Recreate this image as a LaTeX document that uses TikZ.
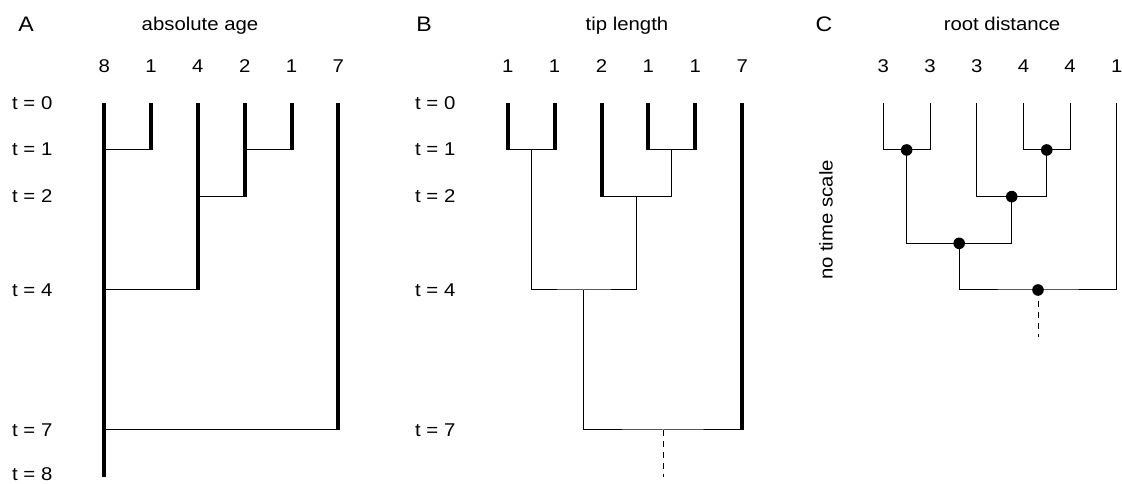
\documentclass[tikz,border=0pt]{standalone}
\usepackage{fontspec}
\setmainfont[FakeStretch=1.1]{Liberation Sans}
\usetikzlibrary{positioning}

\begin{document}
\begin{tikzpicture}[
            x = 1pt, y = -1pt, % pixel grid, y runs down
            font = \fontsize{18.5}{22}\selectfont,
            tipbranch/.style = {line width = 4pt}, % terminal branch
            innerbranch/.style = {line width = 1pt}, % internal branch
            stem/.style = {line width = 1pt, dash pattern = on 6pt off 5pt},
            tiplabel/.style = {anchor = base, inner sep = 0pt},
            timelabel/.style = {anchor = base west, inner sep = 0pt},
            paneltitle/.style = {anchor = base, inner sep = 0pt},
            panelletter/.style = {anchor = base, inner sep = 0pt,
                font = \fontsize{21}{24}\selectfont}
        ]

        \useasboundingbox (0,0) rectangle (1122,484);

        % panel titles
        \node[panelletter] (pA) at (26,32) {A};
        \node[paneltitle] (tA) at (200,31) {absolute age};
        \node[panelletter] (pB) at (424,32) {B};
        \node[paneltitle] (tB) at (627,31) {tip length};
        \node[panelletter] (pC) at (824,32) {C};
        \node[paneltitle] (tC) at (1002,31) {root distance};

        \node[rotate=90, inner sep=0pt] (noscale) at (826,220) {no time scale};

        % time axis
        \foreach \t/\y in {0/103.3, 1/150, 2/196.7, 4/290, 7/430, 8/474.5}
            \node[timelabel] (ta\t) at (12,\y+6) {t = \t};
        \foreach \t/\y in {0/103.3, 1/150, 2/196.7, 4/290, 7/430}
            \node[timelabel] (tb\t) at (415,\y+6) {t = \t};

        %%% A: absolute age
        \begin{scope}[shift={(104.3,103.3)}, x = 46.8pt, y = -46.67pt]
            \foreach \i/\v in {0/8, 1/1, 2/4, 3/2, 4/1, 5/7}
                \node[tiplabel] (la\i) at (\i,-0.65) {\v};

            \coordinate (A1) at (0,0);  \coordinate (A1e) at (0,8);
            \coordinate (A2) at (1,0);  \coordinate (A2e) at (1,1);
            \coordinate (A3) at (2,0);  \coordinate (A3e) at (2,4);
            \coordinate (A4) at (3,0);  \coordinate (A4e) at (3,2);
            \coordinate (A5) at (4,0);  \coordinate (A5e) at (4,1);
            \coordinate (A6) at (5,0);  \coordinate (A6e) at (5,7);

            \draw[innerbranch] (A1|-A2e) -- (A2e);
            \draw[innerbranch] (A4|-A5e) -- (A5e);
            \draw[innerbranch] (A3|-A4e) -- (A4e);
            \draw[innerbranch] (A1|-A3e) -- (A3e);
            \draw[innerbranch] (A1|-A6e) -- (A6e);

            \foreach \n in {A1,A2,A3,A4,A5,A6}
                \draw[tipbranch] (\n) -- (\n e);
        \end{scope}

        %%% B: tip length
        \begin{scope}[shift={(507.7,103.3)}, x = 46.9pt, y = -46.67pt]
            \foreach \i/\v in {0/1, 1/1, 2/2, 3/1, 4/1, 5/7}
                \node[tiplabel] (lb\i) at (\i,-0.65) {\v};

            \coordinate (B1) at (0,0);  \coordinate (B1e) at (0,1);
            \coordinate (B2) at (1,0);  \coordinate (B2e) at (1,1);
            \coordinate (B3) at (2,0);  \coordinate (B3e) at (2,2);
            \coordinate (B4) at (3,0);  \coordinate (B4e) at (3,1);
            \coordinate (B5) at (4,0);  \coordinate (B5e) at (4,1);
            \coordinate (B6) at (5,0);  \coordinate (B6e) at (5,7);

            \coordinate (b12) at (0.5,1);
            \coordinate (b45) at (3.5,1);
            \coordinate (b345) at (2.75,2);
            \coordinate (b1to5) at (1.625,4);
            \coordinate (broot) at (3.3125,7);
            \coordinate (bstem) at (3.3125,8);

            \draw[innerbranch] (B1e) -- (B2e);
            \draw[innerbranch] (B4e) -- (B5e);
            \draw[innerbranch] (B3e) -| (b45);
            \draw[innerbranch] (b12) |- (b1to5) -| (b345);
            \draw[innerbranch] (b1to5) |- (broot) -| (B6e);
            \draw[stem] (broot) -- (bstem);

            \foreach \n in {B1,B2,B3,B4,B5,B6}
                \draw[tipbranch] (\n) -- (\n e);
        \end{scope}

        %%% C: root distance
        \begin{scope}[shift={(883.3,103.3)}, x = 46.7pt, y = -46.67pt]
            \foreach \i/\v in {0/3, 1/3, 2/3, 3/4, 4/4, 5/1}
                \node[tiplabel] (lc\i) at (\i,-0.65) {\v};

            \coordinate (C1) at (0,0);  \coordinate (C1e) at (0,1);
            \coordinate (C2) at (1,0);  \coordinate (C2e) at (1,1);
            \coordinate (C3) at (2,0);  \coordinate (C3e) at (2,2);
            \coordinate (C4) at (3,0);  \coordinate (C4e) at (3,1);
            \coordinate (C5) at (4,0);  \coordinate (C5e) at (4,1);
            \coordinate (C6) at (5,0);  \coordinate (C6e) at (5,4);

            \coordinate (c12) at (0.5,1);
            \coordinate (c45) at (3.5,1);
            \coordinate (c345) at (2.75,2);
            \coordinate (c1to5) at (1.625,3);
            \coordinate (croot) at (3.3125,4);
            \coordinate (cstem) at (3.3125,5);

            \foreach \n in {C1,C2,C3,C4,C5,C6}
                \draw[innerbranch] (\n) -- (\n e);

            \draw[innerbranch] (C1e) -- (C2e);
            \draw[innerbranch] (C4e) -- (C5e);
            \draw[innerbranch] (C3e) -| (c45);
            \draw[innerbranch] (c12) |- (c1to5) -| (c345);
            \draw[innerbranch] (c1to5) |- (croot) -| (C6e);
            \draw[stem] (croot) -- (cstem);

            \foreach \n in {c12,c45,c345,c1to5,croot}
                \fill (\n) circle (5.8pt);
        \end{scope}

\end{tikzpicture}
\end{document}
